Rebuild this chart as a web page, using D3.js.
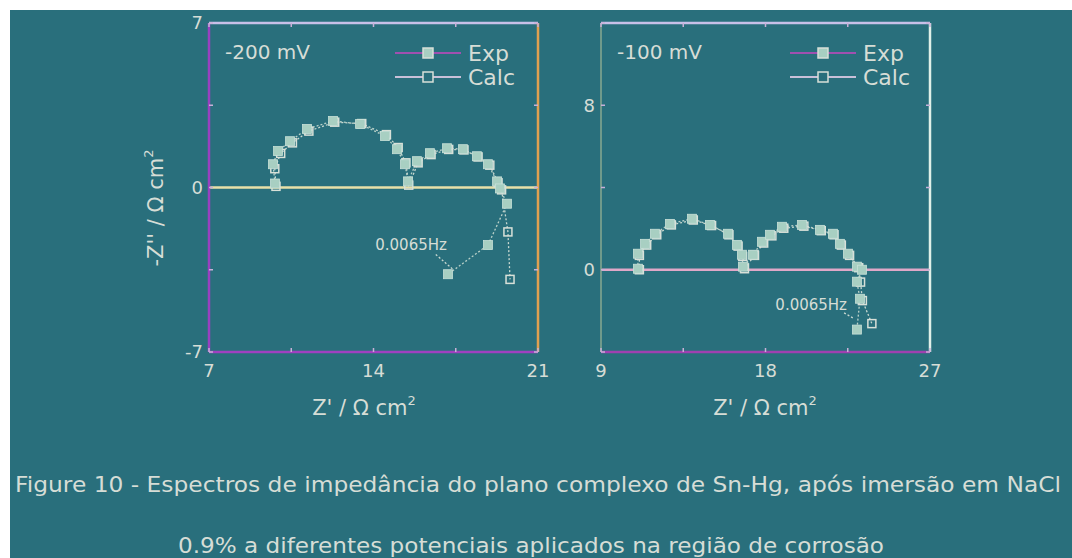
<!DOCTYPE html>
<meta charset="utf-8">
<script src="https://d3js.org/d3.v7.min.js"></script>
<style>
  body { margin: 0; background: #fff; }
  text { font-family: "DejaVu Sans", "Liberation Sans", Arial, sans-serif; }
</style>
<svg id="chart" width="1072" height="558"></svg>
<script>
// -200 mV panel, [Z', -Z''] in ohm cm2
var expA = [[9.81,0.17],[9.72,0.99],[9.94,1.55],[10.45,1.97],[11.17,2.49],[12.28,2.83],[13.43,2.70],
  [14.49,2.19],[15.0,1.63],[15.34,0.99],[15.47,0.26],[15.85,1.12],[16.40,1.46],[17.13,1.67],
  [17.81,1.63],[18.40,1.33],[18.87,0.99],[19.26,0.26],[19.38,-0.04],[19.68,-0.69],[18.87,-2.45],[17.17,-3.69]];
var calcA = [[9.85,0.05],[9.80,0.80],[10.05,1.45],[10.55,1.90],[11.25,2.40],[12.35,2.78],[13.50,2.72],
  [14.55,2.25],[15.05,1.70],[15.38,1.05],[15.50,0.10],[15.90,1.05],[16.45,1.40],[17.20,1.62],
  [17.85,1.60],[18.45,1.30],[18.95,0.95],[19.30,0.20],[19.45,-0.10],[19.72,-1.89],[19.81,-3.91]];
// -100 mV panel
var expB = [[11.02,0.05],[11.02,0.78],[11.41,1.26],[11.95,1.75],[12.77,2.23],[13.98,2.48],[14.96,2.18],
  [15.95,1.75],[16.44,1.21],[16.71,0.73],[16.77,0.15],[17.32,0.73],[17.81,1.36],[18.25,1.70],
  [18.90,2.09],[20.0,2.18],[20.98,1.94],[21.69,1.75],[22.07,1.26],[22.51,0.78],[23.0,0.15],
  [23.28,0.0],[23.0,-0.58],[23.17,-1.41],[23.0,-2.91]];
var calcB = [[11.10,0.0],[11.10,0.70],[11.50,1.20],[12.05,1.70],[12.85,2.18],[14.05,2.42],[15.05,2.15],
  [16.00,1.70],[16.50,1.15],[16.75,0.65],[16.85,0.05],[17.40,0.70],[17.90,1.30],[18.35,1.65],
  [19.00,2.02],[20.10,2.12],[21.05,1.90],[21.75,1.70],[22.15,1.20],[22.60,0.70],[23.10,0.10],
  [23.20,-0.60],[23.30,-1.50],[23.82,-2.62]];

var xTicksA = [7, 14, 21], xMinorA = [10.5, 17.5];
var yTicksA = [7, 0, -7], yMinorA = [3.5, -3.5];
var xTicksB = [9, 18, 27], xMinorB = [13.5, 22.5];
var yTicksB = [0, 8], yMinorB = [-4, 4, 12];

var caption1 = "Figure 10 - Espectros de impedância do plano complexo de Sn-Hg, após imersão em NaCl";
var caption2 = "0.9% a diferentes potenciais aplicados na região de corrosão";

var svg = d3.select("#chart");
svg.append("rect").attr("x", 10).attr("y", 10).attr("width", 1062).attr("height", 548).attr("fill", "#296f7c");

var textCol = "#d6ddd6";

function panel(o) {
  var x = d3.scaleLinear().domain(o.xd).range([o.left, o.right]);
  var y = d3.scaleLinear().domain(o.yd).range([o.bottom, o.top]);
  var g = svg.append("g");

  // zero line
  g.append("line").attr("x1", o.left).attr("x2", o.right).attr("y1", y(0)).attr("y2", y(0))
    .attr("stroke", o.zeroCol).attr("stroke-width", 2.5);

  // frame, each edge has its own tint like the scan
  var edges = [
    [o.left, o.top, o.left, o.bottom, o.edgeCols[0], o.edgeW[0]],
    [o.left, o.top, o.right, o.top, o.edgeCols[1], o.edgeW[1]],
    [o.right, o.top, o.right, o.bottom, o.edgeCols[2], o.edgeW[2]],
    [o.left, o.bottom, o.right, o.bottom, o.edgeCols[3], o.edgeW[3]]
  ];
  edges.forEach(function(e) {
    g.append("line").attr("x1", e[0]).attr("y1", e[1]).attr("x2", e[2]).attr("y2", e[3])
      .attr("stroke", e[4]).attr("stroke-width", e[5]);
  });

  // ticks (inward, all sides)
  var tk = g.append("g").attr("stroke", "#c8b0d8").attr("stroke-width", 1.5);
  o.xt.concat(o.xm).forEach(function(v) {
    tk.append("line").attr("x1", x(v)).attr("x2", x(v)).attr("y1", o.bottom).attr("y2", o.bottom - 4);
    tk.append("line").attr("x1", x(v)).attr("x2", x(v)).attr("y1", o.top).attr("y2", o.top + 4);
  });
  o.yt.concat(o.ym).forEach(function(v) {
    tk.append("line").attr("y1", y(v)).attr("y2", y(v)).attr("x1", o.left).attr("x2", o.left + 4);
    tk.append("line").attr("y1", y(v)).attr("y2", y(v)).attr("x1", o.right).attr("x2", o.right - 4);
  });

  g.selectAll(".xl").data(o.xt).enter().append("text")
    .attr("x", d => x(d)).attr("y", o.bottom + 25).attr("text-anchor", "middle")
    .attr("font-size", 18).attr("fill", textCol).text(d => d);
  g.selectAll(".yl").data(o.yt).enter().append("text")
    .attr("x", o.left - 6).attr("y", d => y(d)).attr("dy", "0.35em").attr("text-anchor", "end")
    .attr("font-size", 18).attr("fill", textCol).text(d => d);

  var line = d3.line().x(d => x(d[0])).y(d => y(d[1]));
  g.append("path").attr("d", line(o.calc)).attr("fill", "none").attr("stroke", "#c8d8d0")
    .attr("stroke-width", 1.3).attr("stroke-dasharray", "2,2");
  g.append("path").attr("d", line(o.exp)).attr("fill", "none").attr("stroke", "#b8d0c8")
    .attr("stroke-width", 1.3).attr("stroke-dasharray", "2,2");
  g.selectAll(".ce").data(o.calc).enter().append("rect")
    .attr("x", d => x(d[0]) - 4).attr("y", d => y(d[1]) - 4).attr("width", 8).attr("height", 8)
    .attr("fill", "none").attr("stroke", "#d8e0d8").attr("stroke-width", 1.5);
  g.selectAll(".ex").data(o.exp).enter().append("rect")
    .attr("x", d => x(d[0]) - 4.5).attr("y", d => y(d[1]) - 4.5).attr("width", 9).attr("height", 9)
    .attr("fill", "#a8cfc2").attr("stroke", "#c8e0d8").attr("stroke-width", 0.8);

  // potential label
  g.append("text").attr("x", o.left + 16).attr("y", o.top + 36).attr("font-size", 20)
    .attr("fill", textCol).text(o.title);

  // legend
  var lx = o.legX, ly = o.top + 30;
  [["Exp", true], ["Calc", false]].forEach(function(s, i) {
    var yy = ly + i * 24;
    g.append("line").attr("x1", lx).attr("x2", lx + 66).attr("y1", yy).attr("y2", yy)
      .attr("stroke", i ? "#c8c0d8" : "#a050b0").attr("stroke-width", 2);
    g.append("rect").attr("x", lx + 28).attr("y", yy - 5).attr("width", 10).attr("height", 10)
      .attr("fill", s[1] ? "#a8cfc2" : o.bg).attr("stroke", "#d8e0d8").attr("stroke-width", 1.5);
    g.append("text").attr("x", lx + 73).attr("y", yy).attr("dy", "0.35em").attr("font-size", 22)
      .attr("fill", textCol).text(s[0]);
  });

  // low frequency annotation
  g.append("text").attr("x", x(o.note[0])).attr("y", y(o.note[1])).attr("dy", "0.35em")
    .attr("text-anchor", "middle").attr("font-size", 15)
    .attr("fill", textCol).text("0.0065Hz");
  g.append("line").attr("x1", x(o.lead[0])).attr("y1", y(o.lead[1]))
    .attr("x2", x(o.lead[2])).attr("y2", y(o.lead[3]))
    .attr("stroke", "#c8d8d0").attr("stroke-width", 1.3).attr("stroke-dasharray", "2,2");

  g.append("text").attr("x", o.titleX).attr("y", o.bottom + 63)
    .attr("text-anchor", "middle").attr("font-size", 21).attr("fill", textCol)
    .html("Z' / Ω cm<tspan dy='-10' font-size='13'>2</tspan>");
  return {x: x, y: y};
}

panel({xd: [7, 21], yd: [-7, 7], left: 209, right: 538, top: 23, bottom: 352,
  xt: xTicksA, xm: xMinorA, yt: yTicksA, ym: yMinorA, exp: expA, calc: calcA,
  title: "-200 mV", legX: 395, bg: "#296f7c", titleX: 364,
  edgeCols: ["#9a40c0", "#c8c0e8", "#e0a050", "#a040c0"], edgeW: [2.5, 2.5, 2.5, 2.5],
  zeroCol: "#e8e0a8", note: [15.6, -2.45], lead: [16.65, -2.85, 17.4, -3.5]});

panel({xd: [9, 27], yd: [-4, 12], left: 601, right: 930, top: 23, bottom: 352,
  xt: xTicksB, xm: xMinorB, yt: yTicksB, ym: yMinorB, exp: expB, calc: calcB,
  title: "-100 mV", legX: 790, bg: "#296f7c", titleX: 765,
  edgeCols: ["#88a890", "#c8c0e8", "#e0f0e8", "#a040b0"], edgeW: [1.5, 2.5, 2.5, 2.5],
  zeroCol: "#e0a8c8", note: [20.5, -1.70], lead: [22.3, -2.1, 22.8, -2.35]});

// left y title
svg.append("text").attr("transform", "translate(163,208) rotate(-90)").attr("text-anchor", "middle")
  .attr("font-size", 21).attr("fill", textCol)
  .html("-Z'' / Ω cm<tspan dy='-10' font-size='13'>2</tspan>");

svg.append("text").attr("x", 538).attr("y", 492).attr("text-anchor", "middle").attr("font-size", 22)
  .attr("textLength", 1046).attr("lengthAdjust", "spacingAndGlyphs")
  .attr("fill", textCol).text(caption1);
svg.append("text").attr("x", 531).attr("y", 553).attr("text-anchor", "middle").attr("font-size", 22)
  .attr("textLength", 706).attr("lengthAdjust", "spacingAndGlyphs")
  .attr("fill", textCol).text(caption2);
</script>
